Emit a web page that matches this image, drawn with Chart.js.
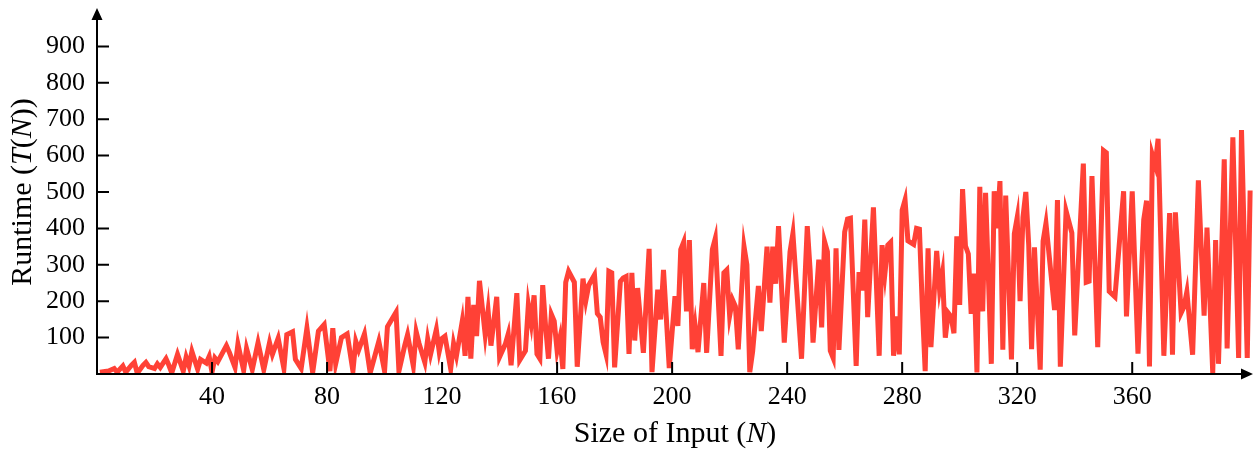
<!DOCTYPE html>
<html>
<head>
<meta charset="utf-8">
<script src="https://cdn.jsdelivr.net/npm/chart.js@4"></script>
<style>
  html, body { margin: 0; padding: 0; background: #fff; }
  #wrap { width: 1255px; height: 449px; }
</style>
</head>
<body>
<div id="wrap"><canvas id="chart"></canvas></div>
<script>
/* runtime vs input size — single red line, arrowed axes */
const SIZE_N = [
  1,4,6,7,9,10,12,13,14,16,17,18,20,21,22,24,25,26,28,30,31,32,33,35,36,
  38,39,40,41,42,45,46,48,49,51,52,54,56,58,60,61,63,65,66,68,69,71,
  73,75,77,79,81,82,83,85,87,89,90,91,93,95,98,100,101,104,105,107,108,110,
  111,112,114,115,116,118,119,120,121,123,124,125,127,128,129,130,131,132,133,135,136,137,139,140,142,143,144,146,
  147,149,150,151,152,153,154,155,156,157,158,159,160,161,162,163,164,166,167,169,170,171,173,174,175,176,177,178,179,180,182,183,
  184,185,186,187,188,190,192,193,195,196,197,198,199,201,202,203,204,205,206,207,208,209,211,212,214,215,217,218,219,220,221,
  222,223,225,226,227,228,230,231,233,234,235,236,237,239,241,242,245,247,248,249,251,252,253,254,255,256,257,
  258,260,261,262,264,265,266,267,268,270,272,273,274,275,276,277,278,279,280,281,282,284,285,286,287,288,289,290,292,293,
  294,295,296,297,298,299,300,301,302,303,304,305,306,307,308,309,311,312,313,314,315,316,318,319,320,321,322,323,324,325,326,328,329,330,
  333,334,335,337,339,340,343,344,345,346,348,350,351,352,354,357,358,360,362,364,365,366,367,
  368,369,371,373,374,375,377,378,379,381,383,385,386,388,389,390,392,393,395,397,398,400,401
];
const RUNTIME = [
  5,8,15,5,22,5,24,32,2,24,32,20,15,28,18,42,24,3,54,8,46,22,62,13,40,
  30,48,5,44,34,78,60,18,82,10,70,12,86,12,86,54,98,15,108,116,40,15,
  126,4,118,136,8,126,28,100,110,8,90,66,110,3,90,8,130,170,8,78,108,22,
  116,84,32,96,54,122,62,98,104,14,84,50,144,50,212,42,190,104,256,108,174,78,212,47,82,110,24,222,
  38,64,190,140,216,55,42,244,130,42,164,145,64,100,14,252,282,252,20,262,202,244,272,166,156,88,55,282,278,18,254,264,
  268,55,278,92,236,58,344,5,232,150,286,152,16,214,132,342,362,172,368,68,132,60,250,58,342,372,50,278,286,160,204,
  186,68,350,300,5,62,242,118,350,196,350,248,406,86,336,386,42,406,284,86,314,128,364,336,64,44,345,
  66,390,426,428,22,280,230,424,156,458,50,354,276,354,362,50,158,54,450,478,366,356,400,398,186,8,345,74,338,232,
  278,100,168,158,112,378,190,508,352,330,165,276,4,514,172,498,28,502,400,530,67,490,40,385,430,200,430,500,355,68,348,12,365,414,
  176,478,20,448,388,106,578,252,255,544,74,614,608,227,212,502,158,502,56,424,476,21,602,
  575,646,50,442,53,444,168,185,226,53,532,160,402,3,368,28,590,70,650,44,670,44,504
];
const X_TICKS = [40, 80, 120, 160, 200, 240, 280, 320, 360];
const Y_TICKS = [100, 200, 300, 400, 500, 600, 700, 800, 900];
const X_MAX = 402;
const Y_MAX = 1000;

const LINE_RED = '#ff4136';
const SERIF = '"Liberation Serif", "DejaVu Serif", serif';

// draw a run of [text, italic] pieces centred on (0,0) of the current transform
function drawPieces(ctx, pieces, size){
  const fontFor = it => (it ? 'italic ' : '') + size + 'px ' + SERIF;
  let total = 0;
  pieces.forEach(p => { ctx.font = fontFor(p[1]); total += ctx.measureText(p[0]).width; });
  let cx = -total / 2;
  ctx.textAlign = 'left';
  ctx.textBaseline = 'middle';
  pieces.forEach(p => {
    ctx.font = fontFor(p[1]);
    ctx.fillText(p[0], cx, 0);
    cx += ctx.measureText(p[0]).width;
  });
}

function noPad(s){ s.paddingTop = 0; s.paddingBottom = 0; s.paddingLeft = 0; s.paddingRight = 0; }

const axisPlugin = {
  id: 'axisPlugin',
  afterDraw(chart){
    const {ctx, chartArea: a, scales: {x, y}} = chart;
    const x0 = x.getPixelForValue(0);
    const y0 = y.getPixelForValue(0);
    ctx.save();
    ctx.strokeStyle = '#000';
    ctx.fillStyle = '#000';
    ctx.lineWidth = 2;

    ctx.beginPath();
    ctx.moveTo(x0, y0 + 1); ctx.lineTo(x0, a.top + 6);
    ctx.moveTo(x0 - 1, y0); ctx.lineTo(a.right - 6, y0);
    Y_TICKS.forEach(v => { const py = y.getPixelForValue(v); ctx.moveTo(x0, py); ctx.lineTo(x0 + 12, py); });
    X_TICKS.forEach(v => { const px = x.getPixelForValue(v); ctx.moveTo(px, y0); ctx.lineTo(px, y0 - 12); });
    ctx.stroke();

    // arrow heads
    ctx.beginPath();
    ctx.moveTo(x0, a.top - 2); ctx.lineTo(x0 - 5.5, a.top + 10); ctx.lineTo(x0 + 5.5, a.top + 10); ctx.closePath();
    ctx.moveTo(a.right, y0); ctx.lineTo(a.right - 12, y0 - 5.5); ctx.lineTo(a.right - 12, y0 + 5.5); ctx.closePath();
    ctx.fill();

    // axis titles
    ctx.save();
    ctx.translate((a.left + a.right) / 2, 434);
    drawPieces(ctx, [['Size of Input (', false], ['N', true], [')', false]], 30);
    ctx.restore();

    ctx.save();
    ctx.translate(23, (a.top + a.bottom) / 2);
    ctx.rotate(-Math.PI / 2);
    drawPieces(ctx, [['Runtime (', false], ['T', true], ['(', false], ['N', true], ['))', false]], 30);
    ctx.restore();

    ctx.restore();
  }
};

const ctx = document.getElementById('chart');
new Chart(ctx, {
  type: 'line',
  data: {
    datasets: [{
      data: SIZE_N.map((n, i) => ({x: n, y: RUNTIME[i]})),
      borderColor: LINE_RED,
      borderWidth: 5,
      pointRadius: 0,
      tension: 0,
      fill: false
    }]
  },
  options: {
    responsive: true,
    maintainAspectRatio: false,
    animation: false,
    layout: { padding: { top: 10, right: 2, left: 0, bottom: 0 } },
    plugins: { legend: { display: false }, tooltip: { enabled: false } },
    scales: {
      x: {
        type: 'linear', min: 0, max: X_MAX,
        grid: { display: false, drawTicks: false },
        border: { display: false },
        afterBuildTicks: s => { s.ticks = X_TICKS.map(v => ({value: v})); },
        afterFit: s => { s.height = 75; noPad(s); },
        ticks: { padding: 8, maxRotation: 0, autoSkip: false, color: '#000',
                 font: { family: SERIF, size: 26 } }
      },
      y: {
        type: 'linear', min: 0, max: Y_MAX,
        grid: { display: false, drawTicks: false },
        border: { display: false },
        afterBuildTicks: s => { s.ticks = Y_TICKS.map(v => ({value: v})); },
        afterFit: s => { s.width = 97; noPad(s); },
        ticks: { padding: 12, autoSkip: false, color: '#000',
                 font: { family: SERIF, size: 26 } }
      }
    }
  },
  plugins: [axisPlugin]
});
</script>
</body>
</html>
